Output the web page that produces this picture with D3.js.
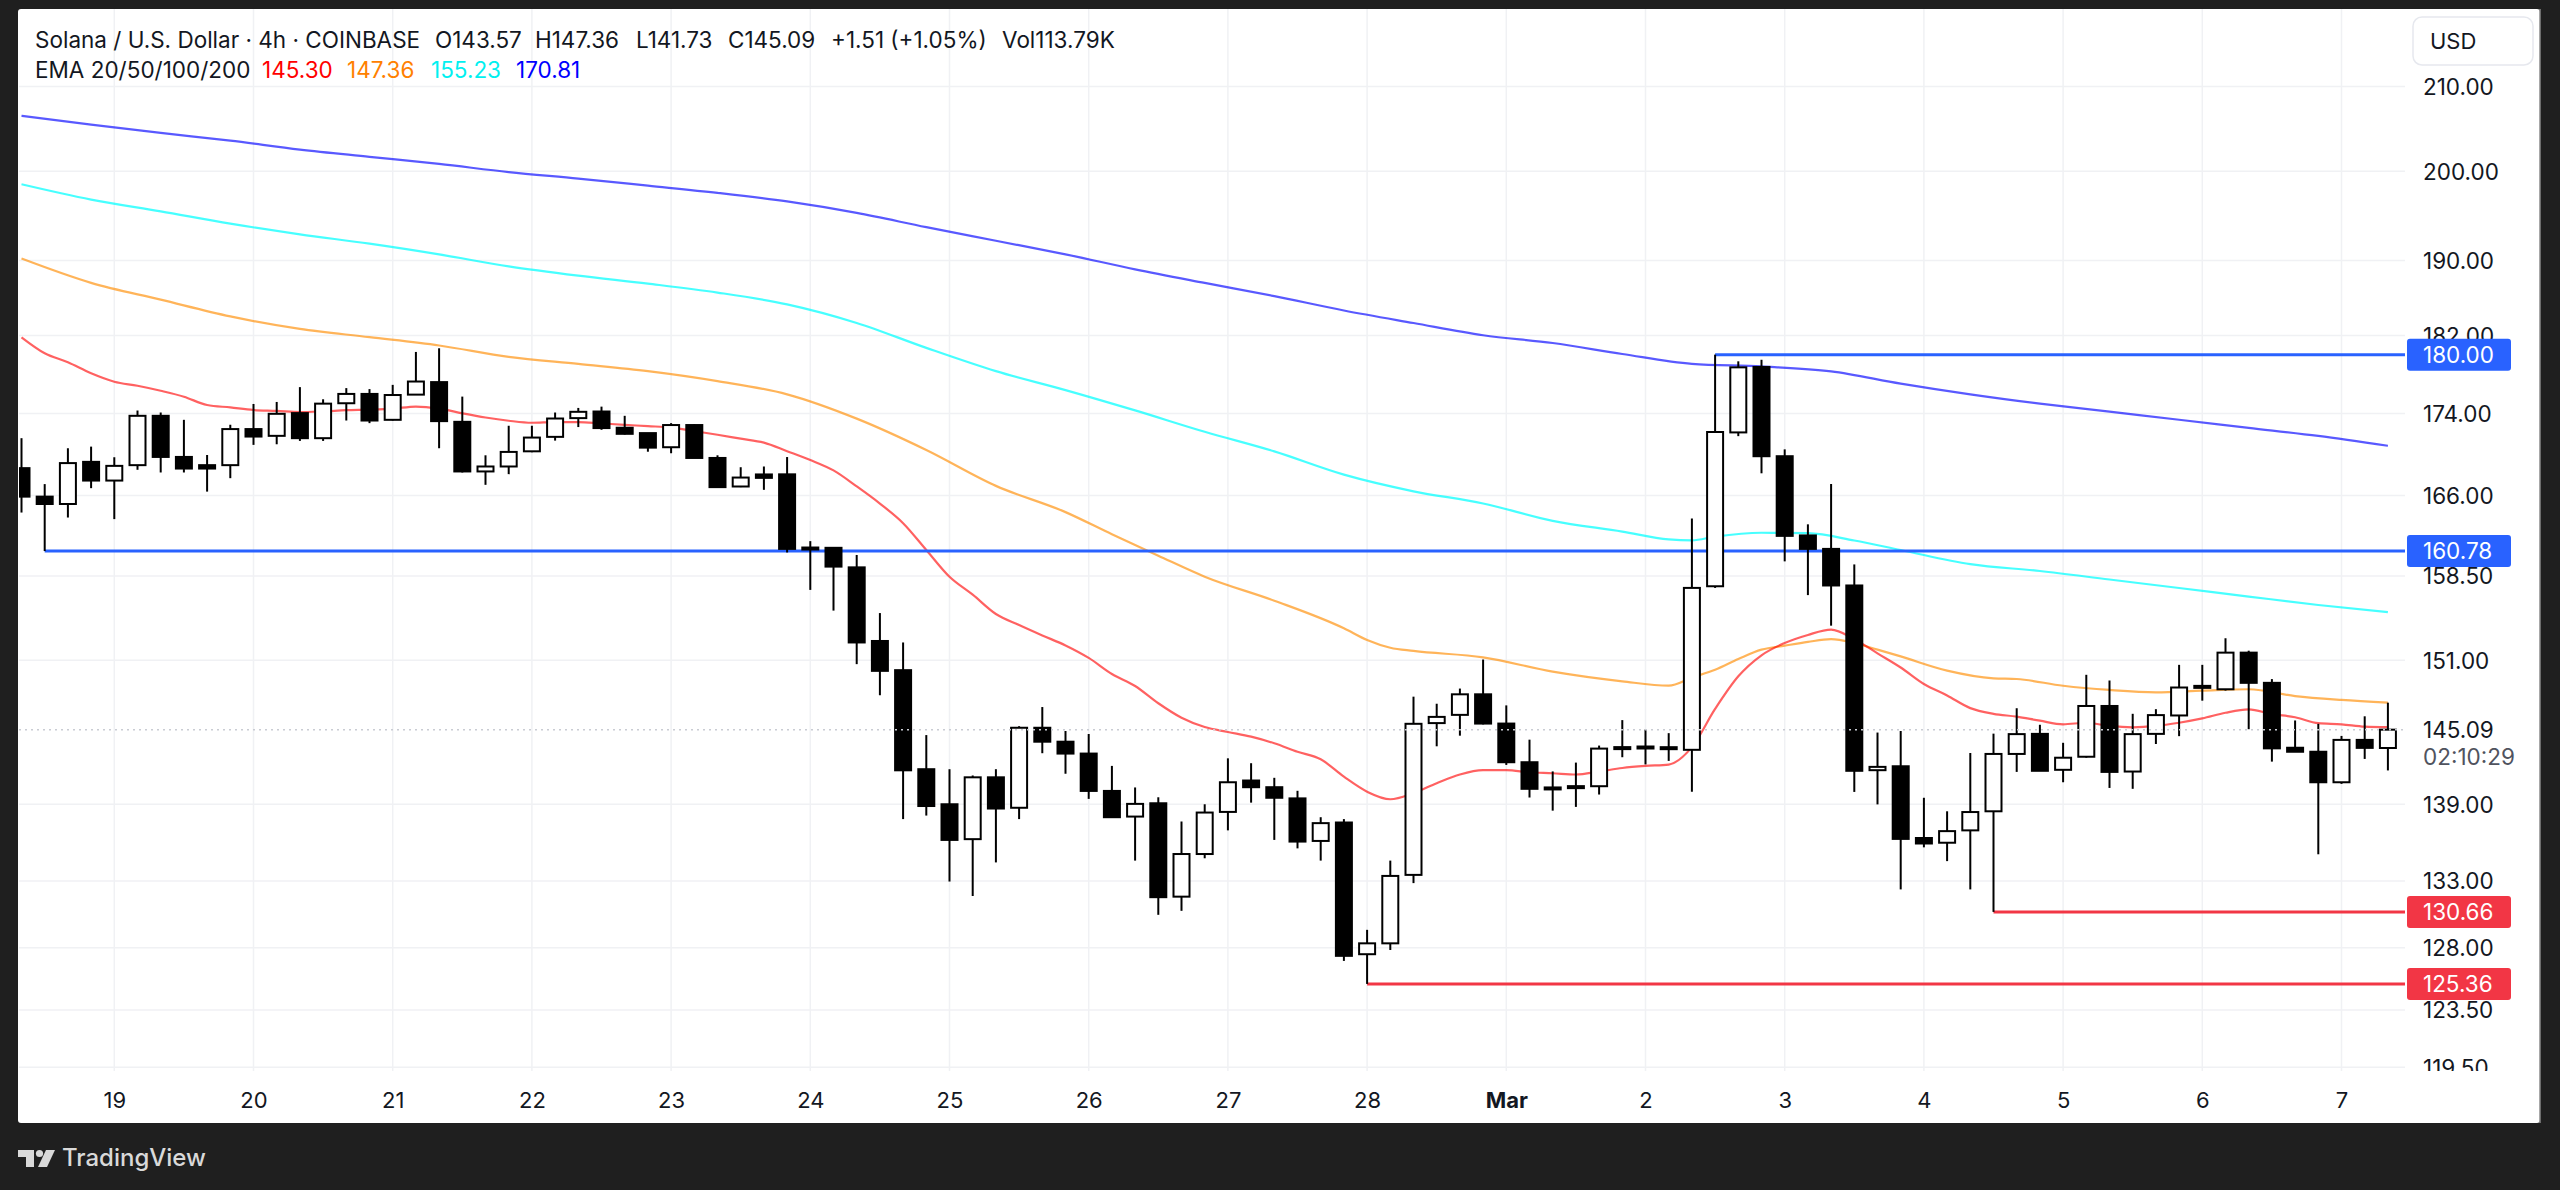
<!DOCTYPE html>
<html><head><meta charset="utf-8">
<script src="https://cdn.jsdelivr.net/npm/d3@7"></script>
<style>
html,body{margin:0;padding:0;background:#1f1f1f;}
svg{display:block;}
text{font-family:Inter,"Noto Sans",sans-serif;}
</style></head><body>
<svg id="c" width="2560" height="1190"></svg>
<script>
// ---------- DATA ----------
const symbol = "Solana / U.S. Dollar · 4h · COINBASE";
const startUTC = Date.UTC(2025, 1, 18, 8); // first 4h bar
const barHours = 4;
const opens = [168.63,165.89,165.19,169.24,167.43,168.92,173.78,169.72,168.92,168.92,
172.46,171.79,174.05,171.56,175.04,175.98,173.38,175.91,177.18,173.18,
168.31,168.79,170.27,171.69,173.55,174.21,172.59,172.06,170.67,172.86,
169.62,166.86,168.02,168.03,160.98,161.08,159.28,152.68,150.14,141.83,
139.00,136.24,141.17,138.72,145.25,144.09,143.11,140.07,138.02,139.08,
131.81,135.08,138.39,140.91,140.37,139.47,136.10,137.55,127.52,128.32,
133.47,145.64,146.33,148.07,145.60,142.40,140.24,140.30,140.45,143.52,
143.60,143.62,143.42,157.56,172.13,178.73,169.79,162.23,160.98,157.63,
141.75,142.07,136.33,135.96,136.93,138.44,143.08,144.74,141.78,142.85,
147.08,141.64,144.74,146.28,148.65,148.50,151.66,149.05,143.59,143.26,
140.77,144.24,143.57];
const highs = [171.56,167.09,170.57,170.73,169.69,174.31,174.11,173.38,169.91,172.89,
174.97,175.17,176.67,175.44,176.57,176.47,176.90,180.28,180.66,175.71,
169.88,172.79,172.79,174.11,174.57,174.70,173.78,172.06,173.05,172.92,
169.88,168.72,168.79,169.71,161.70,161.15,160.42,155.15,152.55,144.64,
141.83,141.32,141.83,145.38,146.99,144.98,144.73,142.10,140.35,139.56,
137.63,139.00,142.72,142.32,141.13,140.08,137.97,137.82,129.32,134.57,
147.87,147.27,148.56,151.06,147.13,144.26,141.65,142.37,143.77,145.89,
145.10,144.80,163.81,180.00,179.31,179.47,170.46,163.27,167.10,159.55,
144.85,144.98,139.52,138.44,143.16,144.76,146.89,145.50,144.00,149.74,
149.25,146.42,146.81,150.60,150.60,152.92,151.83,149.37,145.86,145.58,
144.57,146.21,147.36];
const lows = [164.38,160.78,163.91,166.70,163.76,168.47,168.21,168.21,166.37,167.66,
170.90,170.96,171.29,171.29,173.31,173.05,173.31,175.91,170.57,168.21,
167.02,168.05,170.18,171.32,172.66,172.39,171.92,170.23,170.08,169.62,
166.73,166.80,166.54,160.65,157.23,155.37,150.66,147.99,137.82,138.10,
132.96,131.86,134.43,137.82,143.14,141.46,139.43,137.97,134.57,130.44,
130.74,134.75,136.93,139.13,136.18,135.52,134.57,127.03,125.36,127.83,
132.84,143.71,144.59,145.53,142.18,139.54,138.49,138.79,139.78,142.81,
142.22,142.51,140.00,157.41,171.76,168.13,159.83,156.76,154.03,139.99,
138.99,132.36,135.60,134.53,132.36,130.66,141.61,141.70,140.77,142.77,
140.31,140.24,143.90,144.55,147.53,148.39,145.13,142.45,143.26,135.06,
140.64,142.67,141.73];
const closes = [165.89,165.19,169.12,167.43,168.85,173.78,169.72,168.59,168.59,172.46,
171.72,173.98,171.56,175.00,175.98,173.31,175.87,177.24,173.25,168.31,
168.79,170.21,171.62,173.51,174.18,172.56,171.99,170.63,172.86,169.62,
166.80,167.72,167.69,160.98,161.05,159.35,152.55,150.08,141.74,138.86,
136.18,141.17,138.66,145.25,144.09,143.11,140.07,137.97,139.03,131.77,
135.08,138.34,140.77,140.37,139.52,136.05,137.50,127.40,128.32,133.39,
145.58,146.16,148.07,145.60,142.40,140.24,140.30,140.45,143.52,143.60,
143.62,143.49,157.41,172.17,178.69,169.79,162.19,160.98,157.63,141.70,
142.02,136.26,135.90,136.87,138.38,143.08,144.72,141.70,142.77,147.08,
141.61,144.72,146.31,148.65,148.76,151.66,149.05,143.54,143.26,140.77,
144.24,143.58,145.09];
const volumeLast = "113.79K";
// EMA 20 read for every bar
const ema20 = [181.80,180.14,179.21,178.08,177.22,176.81,176.30,175.70,174.86,174.62,
174.36,174.28,174.16,174.23,174.34,174.40,174.50,174.71,174.50,174.03,
173.61,173.29,173.09,173.16,173.16,173.02,172.88,172.75,172.61,172.26,
171.90,171.51,171.12,170.28,169.42,168.41,166.87,165.23,163.38,160.88,
158.42,156.80,155.07,154.09,153.17,152.29,151.20,149.81,148.78,147.31,
146.09,145.31,144.90,144.51,143.96,143.26,142.64,141.22,140.01,139.40,
139.90,140.69,141.40,141.75,141.75,141.58,141.50,141.40,141.64,141.93,
142.10,142.21,143.64,146.83,149.61,151.43,152.50,153.21,153.68,152.84,
151.60,150.37,148.95,147.97,146.90,146.42,146.18,145.84,145.54,145.67,
145.40,145.29,145.40,145.67,146.03,146.51,146.79,146.40,146.13,145.63,
145.54,145.34,145.30];
// EMA 50/100/200 read at sampled bars (bar number, 1-based)
const ema50Bars = [1,4,7,10,13,16,19,22,25,28,31,34,37,40,43,46,48,50,52,55,58,59,60,61,64,67,70,72,73,74,75,76,77,78,79,80,81,82,84,86,87,89,91,93,95,97,99,101,103];
const ema50 = [190.22,187.58,185.78,184.00,182.68,181.82,180.95,179.77,179.04,178.30,177.28,175.94,173.50,170.40,166.92,164.42,162.34,160.35,158.43,156.26,153.80,152.77,152.09,151.81,151.25,150.01,149.18,148.81,149.50,150.17,151.10,151.92,152.27,152.60,152.84,152.50,151.92,151.33,150.10,149.44,149.38,148.80,148.44,148.24,148.38,148.50,147.92,147.59,147.36];
const ema100Bars = [1,4,7,10,13,16,19,22,25,28,31,34,37,40,43,46,49,52,55,58,61,64,67,70,72,73,74,76,78,80,82,85,88,91,94,97,100,103];
const ema100 = [198.52,196.78,195.45,194.08,192.89,191.86,190.68,189.37,188.36,187.50,186.54,185.28,183.31,180.70,178.30,176.37,174.32,172.19,170.26,168.00,166.40,165.24,163.60,162.59,161.86,161.78,162.12,162.48,162.44,161.76,160.88,159.57,158.95,158.17,157.40,156.63,155.87,155.23];
const ema200Bars = [1,4,7,10,13,16,19,22,25,28,31,34,37,40,43,46,49,52,55,58,61,64,67,70,73,76,79,82,85,88,91,94,97,100,103];
const ema200 = [206.50,205.45,204.47,203.56,202.52,201.68,200.86,199.92,199.17,198.36,197.54,196.57,195.28,193.69,192.18,190.68,189.05,187.58,186.16,184.63,183.30,182.02,181.21,180.07,179.05,178.78,178.28,177.03,175.94,175.00,174.19,173.39,172.58,171.78,170.81];
// horizontal levels: value and the bar (1-based) where they start
const levelValues = [180.00, 160.78, 130.66, 125.36];
const levelStartBars = [74, 2, 86, 59];
const levelKinds = ["resistance", "resistance", "support", "support"];
const priceTicks = [210, 200, 190, 182, 174, 166, 158.5, 151, 139, 133, 128, 123.5, 119.5];
const dayLabels = ["19","20","21","22","23","24","25","26","27","28","Mar","2","3","4","5","6","7"];
const countdown = "02:10:29";

// ---------- LAYOUT ----------
const W = 2560, H = 1190;
const card = {x: 18, y: 9, w: 2522, h: 1114};
const plot = {l: 19, r: 2405, t: 9, b: 1071};
const svg = d3.select("#c");
const barTime = i => new Date(startUTC + i * barHours * 3600e3);
const n = closes.length;

const x = d3.scaleUtc().domain([barTime(0), barTime(n - 1)]).range([21.5, 2387.9]);
const y = d3.scaleLog().domain([119.5, 210]).range([1067.2, 86.5]);

svg.append("rect").attr("width", W).attr("height", H).attr("fill", "#1f1f1f");
svg.append("rect").attr("x", card.x).attr("y", card.y).attr("width", card.w).attr("height", card.h).attr("rx", 3).attr("fill", "#ffffff");
svg.append("line").attr("x1", card.x + card.w).attr("x2", card.x + card.w).attr("y1", card.y).attr("y2", card.y + card.h).attr("stroke", "#8a8a8a").attr("stroke-width", 1.5);

const defs = svg.append("defs");
defs.append("clipPath").attr("id", "plotClip").append("rect")
  .attr("x", plot.l).attr("y", plot.t).attr("width", plot.r - plot.l).attr("height", plot.b - plot.t);
defs.append("clipPath").attr("id", "axisClip").append("rect")
  .attr("x", plot.r).attr("y", plot.t).attr("width", 140).attr("height", plot.b - plot.t);

// grid
const dayTicks = d3.utcDay.range(Date.UTC(2025, 1, 19), Date.UTC(2025, 2, 8));
const grid = svg.append("g").attr("clip-path", "url(#plotClip)");
grid.selectAll("line.v").data(dayTicks).join("line")
  .attr("x1", d => x(d)).attr("x2", d => x(d)).attr("y1", plot.t).attr("y2", plot.b)
  .attr("stroke", "#f0f1f4").attr("stroke-width", 1.5);
grid.selectAll("line.h").data(priceTicks).join("line")
  .attr("x1", plot.l).attr("x2", plot.r).attr("y1", d => y(d)).attr("y2", d => y(d))
  .attr("stroke", "#f0f1f4").attr("stroke-width", 1.5);

const chart = svg.append("g").attr("clip-path", "url(#plotClip)");

// EMA lines
const lineGen = d3.line().x(d => x(d[0])).y(d => y(d[1])).curve(d3.curveMonotoneX);
const emaSets = [
  {pts: ema200Bars.map((b, k) => [barTime(b - 1), ema200[k]]), color: "#0000ff", op: 0.65},
  {pts: ema100Bars.map((b, k) => [barTime(b - 1), ema100[k]]), color: "#00ffff", op: 0.72},
  {pts: ema50Bars.map((b, k) => [barTime(b - 1), ema50[k]]), color: "#ff8c00", op: 0.65},
  {pts: ema20.map((v, i) => [barTime(i), v]), color: "#ff0000", op: 0.62}
];
emaSets.forEach(s => {
  chart.append("path").datum(s.pts).attr("d", lineGen).attr("fill", "none")
    .attr("stroke", s.color).attr("stroke-opacity", s.op).attr("stroke-width", 2.2);
});

// level lines
const levelColor = k => k === "support" ? "#f23645" : "#2962ff";
chart.selectAll("line.level").data(levelValues).join("line")
  .attr("x1", (d, i) => x(barTime(levelStartBars[i] - 1))).attr("x2", plot.r)
  .attr("y1", d => y(d)).attr("y2", d => y(d))
  .attr("stroke", (d, i) => levelColor(levelKinds[i])).attr("stroke-width", 3);

// candles
const bars = closes.map((c, i) => ({t: barTime(i), o: opens[i], h: highs[i], l: lows[i], c}));
chart.selectAll("line.wick").data(bars).join("line")
  .attr("x1", d => x(d.t)).attr("x2", d => x(d.t))
  .attr("y1", d => y(d.h)).attr("y2", d => y(d.l))
  .attr("stroke", "#000").attr("stroke-width", 2);
const bw = 16;
chart.selectAll("rect.body").data(bars).join("rect")
  .attr("x", d => x(d.t) - bw / 2)
  .attr("width", bw)
  .attr("y", d => { const a = y(Math.max(d.o, d.c)), b = y(Math.min(d.o, d.c)); return (b - a < 2) ? (a + b) / 2 - 1 : a; })
  .attr("height", d => Math.max(2, Math.abs(y(d.o) - y(d.c))))
  .attr("fill", d => (d.c >= d.o && Math.abs(y(d.o) - y(d.c)) >= 3) ? "#ffffff" : "#000000")
  .attr("stroke", "#000").attr("stroke-width", 2);

// last price dotted line
const last = bars[n - 1];
chart.append("line").attr("x1", plot.l).attr("x2", plot.r).attr("y1", y(last.c)).attr("y2", y(last.c))
  .attr("stroke", "#c9ccd3").attr("stroke-width", 1.5).attr("stroke-dasharray", "2,4");

// price axis
const axisG = svg.append("g").attr("clip-path", "url(#axisClip)");
const yAxis = d3.axisRight(y).tickValues(priceTicks).tickFormat(d3.format(".2f")).tickSize(0).tickPadding(0);
const ya = axisG.append("g").attr("transform", "translate(2423,0)").call(yAxis);
ya.select(".domain").remove();
ya.selectAll("text").attr("fill", "#131722").attr("font-size", 22.5).attr("dy", "0.35em").attr("x", 0)
  .style("font-family", "Inter");

// last price + countdown
svg.append("text").attr("x", 2423).attr("y", y(last.c)).attr("dy", "0.35em").attr("font-size", 22.5)
  .attr("fill", "#131722").text(last.c.toFixed(2));
svg.append("text").attr("x", 2423).attr("y", y(last.c) + 27).attr("dy", "0.35em").attr("font-size", 22.5)
  .attr("fill", "#50535e").text(countdown);

// level badges
const badges = svg.append("g");
levelValues.forEach((v, i) => {
  const yy = y(v);
  badges.append("rect").attr("x", 2407).attr("y", yy - 16).attr("width", 104).attr("height", 32).attr("rx", 3)
    .attr("fill", levelColor(levelKinds[i]));
  badges.append("text").attr("x", 2423).attr("y", yy).attr("dy", "0.35em").attr("font-size", 22.5)
    .attr("fill", "#ffffff").text(v.toFixed(2));
});

// USD box
svg.append("rect").attr("x", 2413).attr("y", 17).attr("width", 120).attr("height", 48).attr("rx", 9)
  .attr("fill", "#fff").attr("stroke", "#e6e8ee").attr("stroke-width", 1.5);
svg.append("text").attr("x", 2430).attr("y", 41).attr("dy", "0.35em").attr("font-size", 22).attr("fill", "#131722").text("USD");

// time axis
const xAxis = d3.axisBottom(x).tickValues(dayTicks).tickFormat((d, i) => dayLabels[i]).tickSize(0).tickPadding(0);
const xa = svg.append("g").attr("transform", "translate(0,1100)").call(xAxis);
xa.select(".domain").remove();
xa.selectAll("text").attr("y", 0).attr("dy", "0.35em").attr("font-size", 22).attr("fill", "#131722")
  .style("font-family", "Inter")
  .attr("font-weight", (d, i) => dayLabels[i] === "Mar" ? 700 : 400);

// header legend
const hdr = svg.append("g").attr("font-size", 22.5).attr("fill", "#131722");
const chg = last.c - closes[n - 2];
const pct = chg / closes[n - 2] * 100;
const line1 = [
  [symbol, 35],
  ["O" + last.o.toFixed(2), 435],
  ["H" + last.h.toFixed(2), 535],
  ["L" + last.l.toFixed(2), 636],
  ["C" + last.c.toFixed(2), 728],
  [(chg >= 0 ? "+" : "") + chg.toFixed(2) + " (" + (pct >= 0 ? "+" : "") + pct.toFixed(2) + "%)", 831],
  ["Vol" + volumeLast, 1002]
];
line1.forEach(([t, xx]) => hdr.append("text").attr("x", xx).attr("y", 40).attr("dy", "0.35em").text(t));
hdr.append("text").attr("x", 35).attr("y", 70).attr("dy", "0.35em").text("EMA 20/50/100/200");
const emaLast = [ema20[ema20.length - 1], ema50[ema50.length - 1], ema100[ema100.length - 1], ema200[ema200.length - 1]];
const emaTextColors = ["#ff0000", "#ff8000", "#00f0f0", "#0000ff"];
const emaTextX = [262, 347, 431, 516];
emaLast.forEach((v, i) => hdr.append("text").attr("x", emaTextX[i]).attr("y", 70).attr("dy", "0.35em")
  .attr("fill", emaTextColors[i]).text(v.toFixed(2)));

// TradingView footer
const logo = svg.append("g").attr("fill", "#d9d9d9");
logo.append("path").attr("d", "M18 1150 H34 V1167 H26 V1157 H18 Z");
logo.append("circle").attr("cx", 39.5).attr("cy", 1153.5).attr("r", 3.6);
logo.append("path").attr("d", "M46 1150 H55 L47 1167 H38 Z");
svg.append("text").attr("x", 62).attr("y", 1158).attr("dy", "0.35em").attr("font-size", 24)
  .attr("font-weight", 500).attr("fill", "#d9d9d9").text("TradingView");
</script>
</body></html>
